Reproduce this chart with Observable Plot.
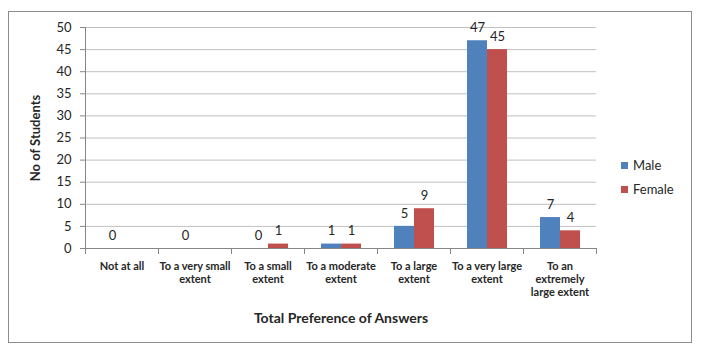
<!DOCTYPE html>
<html><head><meta charset="utf-8">
<script src="https://cdn.jsdelivr.net/npm/d3@7"></script>
<script src="https://cdn.jsdelivr.net/npm/@observablehq/plot@0.6"></script>
<style>
body{margin:0;background:#fff;font-family:Lato,"Open Sans",sans-serif;}
#wrap{position:relative;width:701px;height:356px;overflow:hidden;}
#wrap svg{position:absolute;left:0;top:0;}
#border{position:absolute;left:8px;top:11px;width:682px;height:330px;border:1px solid #8c8c8c;}
.leg{position:absolute;left:621px;font-size:13px;color:#262626;display:flex;align-items:center;height:16px;}
.sw{width:7px;height:7px;margin-right:5px;}
[aria-label="fx-axis label"] text{font-size:14px;font-weight:bold;}
[aria-label="y-axis label"] text{font-size:13px;font-weight:bold;}
</style></head><body>
<div id="wrap"><div id="border"></div></div>
<script>
const categories = ["Not at all","To a very small extent","To a small extent","To a moderate extent","To a large extent","To a very large extent","To an extremely large extent"];
const tickLabels = ["Not at all","To a very small\nextent","To a small\nextent","To a moderate\nextent","To a large\nextent","To a very large\nextent","To an\nextremely\nlarge extent"];
const series = ["Male","Female"];
const male = [0,0,0,1,5,47,7];
const female = [null,null,1,1,9,45,4];
const colors = ["#4F81BD","#C0504D"];
const yTicks = [0,5,10,15,20,25,30,35,40,45,50];

const data = [];
categories.forEach((c,i)=>{
  data.push({cat:c, sex:"Male", value:male[i]});
  data.push({cat:c, sex:"Female", value:female[i]});
});
const present = data.filter(d=>d.value!=null);

const chart = Plot.plot({
  width:701, height:356,
  marginLeft:84, marginRight:104, marginTop:27, marginBottom:108,
  style:{fontFamily:'Lato,"Open Sans",sans-serif', fontSize:"13px", color:"#262626", background:"transparent", overflow:"visible"},
  fx:{domain:categories, paddingInner:0, paddingOuter:0, label:null},
  x:{domain:series, paddingInner:0, paddingOuter:0.78, axis:null},
  y:{domain:[0,50]},
  color:{domain:series, range:colors},
  marks:[
    Plot.gridY(yTicks, {stroke:"#c0c0c0", strokeOpacity:1}),
    Plot.barY(present, {fx:"cat", x:"sex", y:"value", fill:"sex"}),
    Plot.ruleY([0], {stroke:"#868686"}),
    Plot.frame({anchor:"left", facetAnchor:"left", stroke:"#868686"}),
    Plot.frame({anchor:"left", insetTop:221, insetBottom:-5, stroke:"#868686"}),
    Plot.frame({anchor:"right", insetTop:221, insetBottom:-5, stroke:"#868686"}),
    Plot.text(present, {fx:"cat", x:"sex", y:"value", text:d=>String(d.value), dy:-13, fill:"#262626", fontSize:13}),
    Plot.axisY(yTicks, {tickSize:5, tickPadding:9, stroke:"#868686", fontSize:13, label:"No of Students", labelAnchor:"center", labelOffset:55, labelArrow:false}),
    Plot.axisFx({anchor:"bottom", tickSize:0, tickPadding:13, tickFormat:c=>tickLabels[categories.indexOf(c)], fontSize:11, fontWeight:"bold", lineHeight:1.15, label:"Total Preference of Answers", labelAnchor:"center", labelOffset:74, labelArrow:false})
  ]
});
const wrap = document.getElementById("wrap");
wrap.appendChild(chart);
[["Male",colors[0],157],["Female",colors[1],181]].forEach(([name,col,top])=>{
  const d = document.createElement("div");
  d.className="leg"; d.style.top=top+"px";
  d.innerHTML=`<span class="sw" style="background:${col}"></span><span>${name}</span>`;
  wrap.appendChild(d);
});
</script>
</body></html>
